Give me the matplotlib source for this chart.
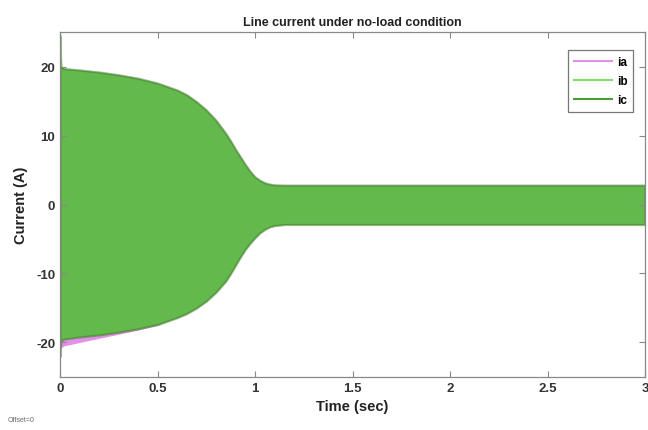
import matplotlib
matplotlib.use("Agg")
import matplotlib.pyplot as plt
from matplotlib.lines import Line2D

# Envelope of the three-phase line currents
time_s = [0.0, 0.004, 0.02, 0.1, 0.2, 0.3, 0.4, 0.5, 0.55, 0.6, 0.65, 0.7, 0.75, 0.8,
          0.85, 0.875, 0.9, 0.925, 0.95, 0.975, 1.0, 1.025, 1.05, 1.075, 1.1, 1.15,
          1.2, 1.5, 2.0, 2.5, 3.0]
upper_A = [24.5, 20.0, 19.7, 19.5, 19.2, 18.8, 18.3, 17.6, 17.1, 16.6, 15.9, 14.9, 13.7, 12.2,
           10.3, 9.2, 8.0, 6.9, 5.8, 4.8, 4.0, 3.5, 3.15, 2.95, 2.85, 2.8,
           2.8, 2.8, 2.8, 2.8, 2.8]
lower_A = [-22.0, -19.8, -19.5, -19.2, -18.9, -18.5, -18.0, -17.4, -16.9, -16.4, -15.8, -15.0, -14.0, -12.7,
           -11.1, -10.0, -8.8, -7.6, -6.5, -5.6, -4.8, -4.1, -3.6, -3.25, -3.05, -2.9,
           -2.9, -2.9, -2.9, -2.9, -2.9]
ia_lower_A = [-22.0, -20.8, -20.5, -20.0, -19.4, -18.8, -18.2, -17.5, -16.9, -16.4, -15.8, -15.0, -14.0, -12.7,
              -11.1, -10.0, -8.8, -7.6, -6.5, -5.6, -4.8, -4.1, -3.6, -3.25, -3.05, -2.9,
              -2.9, -2.9, -2.9, -2.9, -2.9]

series = ["ia", "ib", "ic"]
colors = {"ia": "#e590e8", "ib": "#7ee06a", "ic": "#4f9a34"}

xticks = [0, 0.5, 1, 1.5, 2, 2.5, 3]
xticklabels = ["0", "0.5", "1", "1.5", "2", "2.5", "3"]
yticks = [-20, -10, 0, 10, 20]
yticklabels = ["-20", "-10", "0", "10", "20"]

plt.rcParams['font.family'] = ['Liberation Sans', 'DejaVu Sans']

fig = plt.figure(figsize=(6.48, 4.31), dpi=100)
ax = fig.add_axes([0.0926, 0.123, 0.9028, 0.8004])

# phase a (magenta), mostly hidden underneath
ax.fill_between(time_s, ia_lower_A, upper_A, color=colors["ia"], lw=0)
# phase b (light green)
ax.fill_between(time_s, lower_A, upper_A, color=colors["ib"], lw=0)
# phase c (darker green) with transparency to produce the mixed tone
ax.fill_between(time_s, lower_A, upper_A, facecolor=colors["ic"], alpha=0.55,
                edgecolor="#3f7f2a", lw=1.6)

ax.set_xlim(0, 3)
ax.set_ylim(-25, 25)
ax.set_xticks(xticks)
ax.set_xticklabels(xticklabels)
ax.set_yticks(yticks)
ax.set_yticklabels(yticklabels)
ax.tick_params(direction="in", top=True, right=True, length=4, width=0.8,
               colors="#888888", labelcolor="#333333", labelsize=9.5)
for lbl in ax.get_xticklabels() + ax.get_yticklabels():
    lbl.set_fontweight("bold")
for sp in ax.spines.values():
    sp.set_color("#888888")
    sp.set_linewidth(0.9)

ax.set_title("Line current under no-load condition", fontsize=9, fontweight="bold",
             color="#222222", pad=5)
ax.set_xlabel("Time (sec)", fontsize=10.5, fontweight="bold", color="#222222", labelpad=4)
ax.set_ylabel("Current (A)", fontsize=10.5, fontweight="bold", color="#222222", labelpad=6)

handles = [Line2D([0], [0], color=colors[s], lw=1.5) for s in series]
leg = ax.legend(handles, series, loc="upper right", bbox_to_anchor=(0.99, 0.965),
                prop={"weight": "bold", "size": 8.5}, frameon=True, fancybox=False,
                handlelength=3.2, handletextpad=0.4, borderpad=0.5, labelspacing=0.6)
leg.get_frame().set_edgecolor("#555555")
leg.get_frame().set_linewidth(0.9)

fig.text(0.012, 0.022, "Offset=0", fontsize=5, color="#666666")

fig.savefig("out.png", dpi=100)
